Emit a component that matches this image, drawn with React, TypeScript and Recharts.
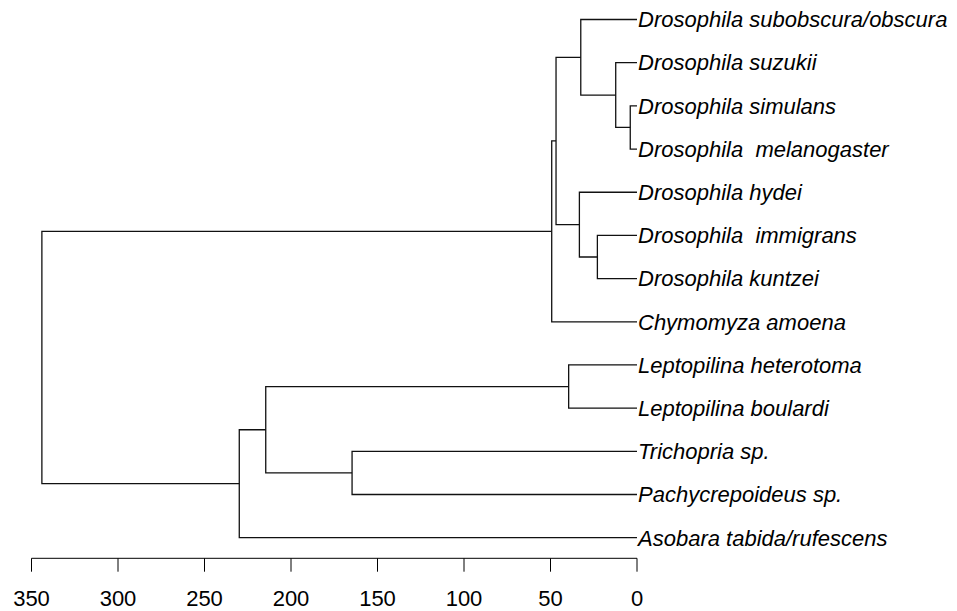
import { LineChart, Line, XAxis, YAxis } from 'recharts';

// leaves in plotting order, top to bottom
const leafNames = [
  'Drosophila subobscura/obscura',
  'Drosophila suzukii',
  'Drosophila simulans',
  'Drosophila  melanogaster',
  'Drosophila hydei',
  'Drosophila  immigrans',
  'Drosophila kuntzei',
  'Chymomyza amoena',
  'Leptopilina heterotoma',
  'Leptopilina boulardi',
  'Trichopria sp.',
  'Pachycrepoideus sp.',
  'Asobara tabida/rufescens',
];

// hclust-style merges: negative = leaf (1-based), positive = earlier merge
const mergeLeft = [-3, -2, -6, -1, -5, 4, 6, -9, -11, 8, 10, 7];
const mergeRight = [-4, 1, -7, 2, 3, 5, -8, -10, -12, 9, -13, 11];
const mergeHeight = [3.9, 12.3, 22.9, 32.5, 33.3, 46.8, 49.3, 39.5, 164.7, 214.6, 229.9, 344];

const xTicks = [0, 50, 100, 150, 200, 250, 300, 350];

type Node = { h: number; y: number };

function nodeOf(ref: number): Node {
  if (ref < 0) return { h: 0, y: -ref - 1 };
  const l = nodeOf(mergeLeft[ref - 1]);
  const r = nodeOf(mergeRight[ref - 1]);
  return { h: mergeHeight[ref - 1], y: (l.y + r.y) / 2 };
}

// one elbow per merge
const elbows = mergeHeight.map((h, i) => {
  const l = nodeOf(mergeLeft[i]);
  const r = nodeOf(mergeRight[i]);
  return [
    { x: l.h, y: l.y },
    { x: h, y: l.y },
    { x: h, y: r.y },
    { x: r.h, y: r.y },
  ];
});

const leafTicks = leafNames.map((_, i) => i);
const font = "'Liberation Sans', Arial, Helvetica, sans-serif";

function LeafTick(props: any) {
  const { x, y, payload } = props;
  return (
    <text
      x={x}
      y={y}
      dy="0.355em"
      textAnchor="start"
      fill="#000"
      fontSize={22}
      fontStyle="italic"
      fontFamily={font}
      style={{ whiteSpace: 'pre' }}
    >
      {leafNames[payload.value]}
    </text>
  );
}

export default function App() {
  return (
    <LineChart
      width={949}
      height={603}
      margin={{ top: 11.5, right: 0, bottom: 0, left: 23.5 }}
    >
      <XAxis
        type="number"
        dataKey="x"
        domain={[0, 350]}
        ticks={xTicks}
        reversed
        allowDataOverflow
        height={52.7}
        tickSize={13.4}
        tickMargin={19}
        stroke="#000"
        tick={{ fill: '#000', fontSize: 22, fontFamily: font }}
      />
      <YAxis
        type="number"
        orientation="right"
        domain={[0, 12]}
        ticks={leafTicks}
        reversed
        padding={{ top: 0, bottom: 20.6 }}
        width={320}
        axisLine={false}
        tickLine={false}
        tickSize={0}
        tickMargin={1}
        interval={0}
        tick={<LeafTick />}
      />
      {elbows.map((pts, i) => (
        <Line
          key={i}
          data={pts}
          dataKey="y"
          type="linear"
          stroke="#111"
          strokeWidth={1.3}
          dot={false}
          activeDot={false}
          isAnimationActive={false}
        />
      ))}
    </LineChart>
  );
}
